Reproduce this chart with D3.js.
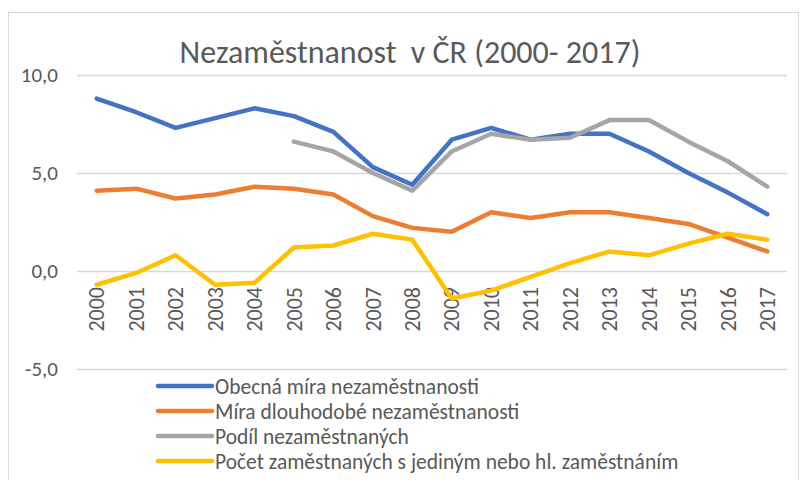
<!DOCTYPE html>
<html>
<head>
<meta charset="utf-8">
<script src="https://cdn.jsdelivr.net/npm/d3@7"></script>
<style>
  body { margin: 0; background: #fff; }
  text { font-family: Carlito, "Liberation Sans Narrow", "Open Sans", sans-serif; fill: #595959; }
</style>
</head>
<body>
<div id="chart"></div>
<script>
//chart data
var years = ['2000','2001','2002','2003','2004','2005','2006','2007','2008','2009',
             '2010','2011','2012','2013','2014','2015','2016','2017'];
var obecna = [8.8, 8.1, 7.3, 7.8, 8.3, 7.9, 7.1, 5.3, 4.4, 6.7, 7.3, 6.7, 7.0, 7.0, 6.1, 5.0, 4.0, 2.9];
var dlouhodoba = [4.1, 4.2, 3.7, 3.9, 4.3, 4.2, 3.9, 2.8, 2.2, 2.0, 3.0, 2.7, 3.0, 3.0, 2.7, 2.4, 1.7, 1.0];
var podil = [null, null, null, null, null, 6.6, 6.1, 5.0, 4.1, 6.1, 7.0, 6.7, 6.8, 7.7, 7.7, 6.6, 5.6, 4.3];
var pocet = [-0.7, -0.1, 0.8, -0.7, -0.6, 1.2, 1.3, 1.9, 1.6, -1.4, -1.0, -0.3, 0.4, 1.0, 0.8, 1.4, 1.9, 1.6];
var yTicks = [-5, 0, 5, 10];

var series = [
    { name: 'Obecná míra nezaměstnanosti', values: obecna, color: '#4472C4' },
    { name: 'Míra dlouhodobé nezaměstnanosti', values: dlouhodoba, color: '#ED7D31' },
    { name: 'Podíl nezaměstnaných', values: podil, color: '#A5A5A5' },
    { name: 'Počet zaměstnaných s jediným nebo hl. zaměstnáním', values: pocet, color: '#FFC000' }
];

var width = 800, height = 480;
var plot = { left: 77, right: 787, top: 75, bottom: 369 };

var svg = d3.select('#chart').append('svg')
    .attr('width', width)
    .attr('height', height);

//chart border
svg.append('rect')
    .attr('x', 8.5).attr('y', 12.5)
    .attr('width', 790).attr('height', 480)
    .attr('fill', 'none')
    .attr('stroke', '#d9d9d9');

//scales
var x = d3.scaleBand().domain(years).range([plot.left, plot.right]);
var y = d3.scaleLinear().domain([-5, 10]).range([plot.bottom, plot.top]);

//gridlines
svg.append('g').selectAll('line')
    .data(yTicks)
    .enter()
    .append('line')
    .attr('x1', plot.left).attr('x2', plot.right)
    .attr('y1', function (d) { return Math.round(y(d)) + 0.5; })
    .attr('y2', function (d) { return Math.round(y(d)) + 0.5; })
    .attr('stroke', '#d9d9d9')
    .attr('stroke-width', 1.3);

//y axis labels
svg.append('g').selectAll('text')
    .data(yTicks)
    .enter()
    .append('text')
    .attr('x', 58)
    .attr('y', function (d) { return y(d); })
    .attr('dy', '0.35em')
    .attr('text-anchor', 'end')
    .style('font-size', '21px')
    .text(function (d) { return d.toFixed(1).replace('.', ','); });

//x axis labels (rotated)
svg.append('g').selectAll('text')
    .data(years)
    .enter()
    .append('text')
    .attr('transform', function (d) {
        return 'translate(' + (x(d) + x.bandwidth() / 2) + ',287) rotate(-90)';
    })
    .attr('dy', '0.35em')
    .attr('text-anchor', 'end')
    .style('font-size', '22px')
    .text(function (d) { return d; });

//lines
var line = d3.line()
    .defined(function (d) { return d !== null; })
    .x(function (d, i) { return x(years[i]) + x.bandwidth() / 2; })
    .y(function (d) { return y(d); });

svg.append('g').selectAll('path')
    .data(series)
    .enter()
    .append('path')
    .attr('d', function (s) { return line(s.values); })
    .attr('fill', 'none')
    .attr('stroke', function (s) { return s.color; })
    .attr('stroke-width', 4.5)
    .attr('stroke-linejoin', 'round')
    .attr('stroke-linecap', 'round');

//title (keep the double space)
svg.append('text')
    .attr('x', 410)
    .attr('y', 63)
    .attr('text-anchor', 'middle')
    .style('font-size', '32px')
    .style('white-space', 'pre')
    .text('Nezaměstnanost  v ČR (2000- 2017)');

//legend
var legend = svg.append('g').selectAll('g')
    .data(series)
    .enter()
    .append('g')
    .attr('transform', function (d, i) { return 'translate(158,' + (386 + i * 25) + ')'; });

legend.append('line')
    .attr('x1', 0).attr('x2', 54)
    .attr('stroke', function (d) { return d.color; })
    .attr('stroke-width', 4.5)
    .attr('stroke-linecap', 'round');

legend.append('text')
    .attr('x', 57)
    .attr('dy', '0.35em')
    .style('font-size', '21.5px')
    .text(function (d) { return d.name; });
</script>
</body>
</html>
